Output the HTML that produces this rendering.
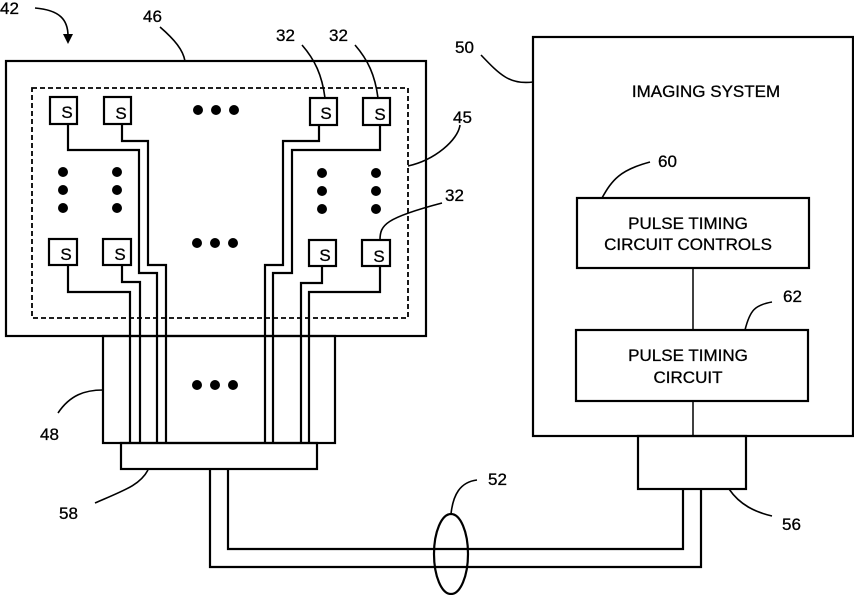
<!DOCTYPE html>
<html><head><style>
body{margin:0;background:#fff}
svg text{font-family:"Liberation Sans",sans-serif;font-size:17px;fill:#000;stroke:#000;stroke-width:0.3}
</style></head><body>
<svg width="854" height="595" viewBox="0 0 854 595" xmlns="http://www.w3.org/2000/svg">
<g fill="none" stroke="#000" stroke-width="2.2">
<rect x="6" y="61" width="420" height="275"/>
<rect x="32" y="88" width="376" height="230" stroke-dasharray="5,3" stroke-width="1.8"/>
<rect x="50" y="97" width="27" height="27"/><rect x="104" y="97" width="27" height="27"/>
<rect x="310" y="98" width="27" height="27"/><rect x="363" y="98" width="27" height="27"/>
<rect x="49" y="239" width="28" height="26"/><rect x="103" y="239" width="28" height="26"/>
<rect x="309" y="240" width="27" height="26"/><rect x="362" y="240" width="28" height="26"/>
<polyline points="68,124 68,150 139,150 139,273 157,273 157,443"/>
<polyline points="122,124 122,141 148,141 148,265 166,265 166,443"/>
<polyline points="68,265 68,292 130,292 130,443"/>
<polyline points="122,265 122,282 140,282 140,443"/>
<polyline points="319,125 319,141 283,141 283,265 265,265 265,443"/>
<polyline points="380,125 380,150 292,150 292,273 273,273 273,443"/>
<polyline points="322,266 322,283 301,283 301,443"/>
<polyline points="380,266 380,292 309,292 309,443"/>
<rect x="103" y="336" width="232" height="107"/>
<rect x="121" y="443" width="196" height="26"/>
<polyline points="228,469 228,549 683,549 683,489"/>
<polyline points="210,469 210,567 701,567 701,489"/>
<ellipse cx="451" cy="554" rx="17" ry="40"/>
<rect x="533" y="37" width="320" height="399"/>
<rect x="577" y="198" width="232" height="70"/>
<rect x="576" y="330" width="232" height="71"/>
<line x1="693" y1="268" x2="693" y2="330" stroke-width="1.5"/><line x1="693" y1="401" x2="693" y2="436" stroke-width="1.5"/>
<rect x="638" y="436" width="108" height="53"/>
<g stroke-width="1.6">
<path d="M35,8 C60,10 68,20 68,36"/>
<path d="M160,27 C175,40 183,50 185,61"/>
<path d="M302,45 C315,60 322,75 325,98"/>
<path d="M355,45 C368,60 375,75 378,98"/>
<path d="M408,166 C435,160 458,140 460,125"/>
<path d="M380,240 C380,225 385,218 442,203"/>
<path d="M481,55 C500,75 510,85 533,82"/>
<path d="M58,413 C70,395 85,390 103,390"/>
<path d="M95,503 C125,490 140,485 148,470"/>
<path d="M451,514 C453,495 460,482 477,480"/>
<path d="M729,489 C740,505 755,512 772,516"/>
<path d="M602,198 C612,180 620,170 650,162"/>
<path d="M745,330 C750,310 755,305 772,302"/>
</g>
</g>
<path d="M63,34 L68,44 L73,34 Z" fill="#000"/>
<g fill="#000">
<circle cx="198" cy="110" r="5"/><circle cx="216" cy="110" r="5"/><circle cx="234" cy="110" r="5"/>
<circle cx="197" cy="243" r="5"/><circle cx="215" cy="243" r="5"/><circle cx="233" cy="243" r="5"/>
<circle cx="197" cy="385" r="5"/><circle cx="215" cy="385" r="5"/><circle cx="233" cy="385" r="5"/>
<circle cx="63" cy="172" r="5"/><circle cx="63" cy="190" r="5"/><circle cx="63" cy="208" r="5"/>
<circle cx="117" cy="172" r="5"/><circle cx="117" cy="190" r="5"/><circle cx="117" cy="208" r="5"/>
<circle cx="322" cy="173" r="5"/><circle cx="322" cy="191" r="5"/><circle cx="322" cy="209" r="5"/>
<circle cx="376" cy="173" r="5"/><circle cx="376" cy="191" r="5"/><circle cx="376" cy="209" r="5"/>
</g>
<g text-anchor="middle">
<text x="67" y="118">S</text><text x="121" y="119">S</text><text x="326" y="119">S</text><text x="380" y="120">S</text>
<text x="66" y="260">S</text><text x="120" y="260">S</text><text x="325" y="261">S</text><text x="379" y="262">S</text>
<text x="706" y="97">IMAGING SYSTEM</text>
<text x="688" y="229">PULSE TIMING</text><text x="688" y="250">CIRCUIT CONTROLS</text>
<text x="688" y="361">PULSE TIMING</text><text x="688" y="383">CIRCUIT</text>
</g>
<text x="0" y="14">42</text><text x="143" y="22">46</text>
<text x="276" y="41">32</text><text x="329" y="41">32</text>
<text x="453" y="123">45</text><text x="445" y="201">32</text>
<text x="455" y="53">50</text><text x="658" y="167">60</text><text x="783" y="302">62</text>
<text x="40" y="440">48</text><text x="59" y="519">58</text>
<text x="488" y="485">52</text><text x="782" y="530">56</text>
</svg>
</body></html>
